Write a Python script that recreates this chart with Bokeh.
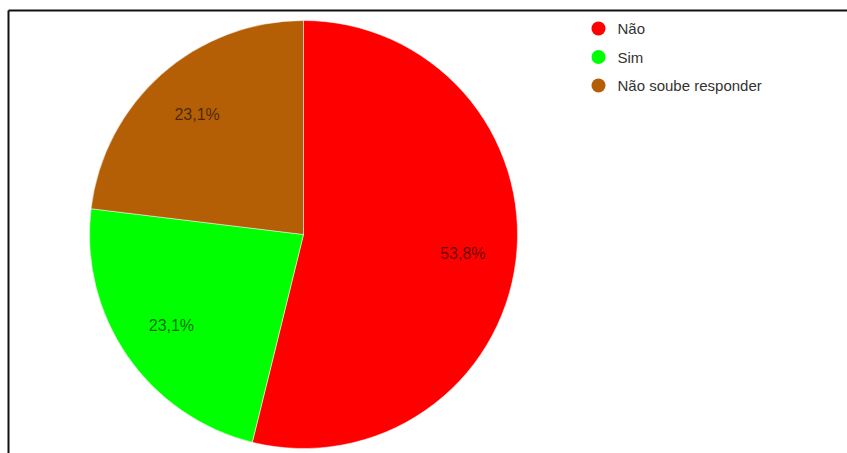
import math
from bokeh.plotting import figure
from bokeh.models import Range1d, ColumnDataSource
from bokeh.core.properties import value
from bokeh.embed import file_html
from bokeh.resources import INLINE

# ---- data ----
categories = ["Não", "Sim", "Não soube responder"]
counts = [7, 3, 3]
colors = ["#ff0000", "#00ff00", "#b45f06"]

W, H = 847, 453
p = figure(width=W, height=H, output_backend="svg", toolbar_location=None,
           x_range=Range1d(0, W), y_range=Range1d(0, H), min_border=0)
p.axis.visible = False
p.grid.visible = False
p.outline_line_color = None
p.background_fill_color = "white"

# frame border (top and left; the rest is cut off in the reference)
bx, by = 8, H - 10
p.segment(x0=[bx, bx], y0=[by, by], x1=[W, bx], y1=[by, 0],
          line_color="#111111", line_width=2)

# pie geometry
cx, cy, R = 303, H - 234, 214
total = sum(counts)
fracs = [c / total for c in counts]
starts, ends, mids = [], [], []
a = math.pi / 2
for f in fracs:
    s = a
    e = a - f * 2 * math.pi
    starts.append(s)
    ends.append(e)
    mids.append((s + e) / 2)
    a = e

src = ColumnDataSource(dict(start=starts, end=ends, color=colors, cat=categories))
p.wedge(x=cx, y=cy, radius=R, start_angle="start", end_angle="end",
        direction="clock", fill_color="color", line_color="white", line_width=0.5,
        source=src)

labels = [("%.1f%%" % (f * 100)).replace(".", ",") for f in fracs]
lx = [cx + 0.75 * R * math.cos(m) for m in mids]
ly = [cy + 0.75 * R * math.sin(m) for m in mids]
p.text(x=lx, y=ly, text=labels, text_align="center", text_baseline="middle",
       text_font=value("Liberation Sans"), text_font_size="16px",
       text_color="black", text_alpha=0.6)

# legend
lgx = 598
lgy = [H - 28 - 28.5 * i for i in range(len(categories))]
p.scatter(x=[lgx] * len(categories), y=lgy, size=14, fill_color=colors,
          line_color=None, marker="circle")
p.text(x=[lgx + 19] * len(categories), y=lgy, text=categories,
       text_align="left", text_baseline="middle",
       text_font=value("Liberation Sans"), text_font_size="15px",
       text_color="#333333")

open("out.html", "w").write(file_html(p, INLINE))
